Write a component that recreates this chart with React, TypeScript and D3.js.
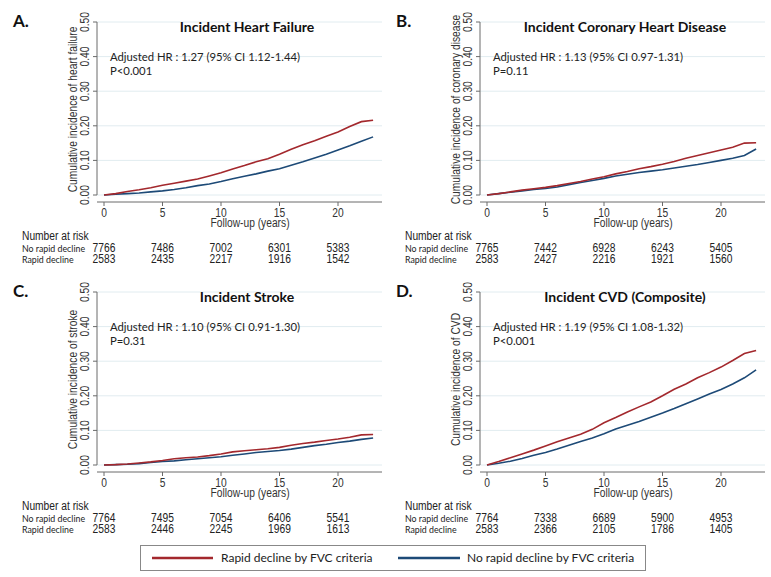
import React from 'react';
import * as d3 from 'd3';

// ---------- DATA ----------
const years = [0, 1, 2, 3, 4, 5, 6, 7, 8, 9, 10, 11, 12, 13, 14, 15, 16, 17, 18, 19, 20, 21, 22, 23];
const riskYears = [0, 5, 10, 15, 20];
const yTicks = [0, 0.1, 0.2, 0.3, 0.4, 0.5];

const hfRapid = [0, 0.004, 0.010, 0.015, 0.021, 0.028, 0.034, 0.040, 0.046, 0.055, 0.064, 0.075, 0.085, 0.096, 0.105, 0.118, 0.132, 0.145, 0.157, 0.170, 0.182, 0.198, 0.212, 0.216];
const hfNo = [0, 0.002, 0.004, 0.006, 0.009, 0.012, 0.016, 0.021, 0.027, 0.032, 0.039, 0.047, 0.054, 0.061, 0.069, 0.076, 0.086, 0.096, 0.107, 0.118, 0.130, 0.142, 0.155, 0.168];

const chdRapid = [0, 0.004, 0.009, 0.014, 0.018, 0.022, 0.027, 0.033, 0.039, 0.046, 0.053, 0.061, 0.068, 0.076, 0.082, 0.089, 0.097, 0.106, 0.114, 0.122, 0.130, 0.138, 0.150, 0.151];
const chdNo = [0, 0.004, 0.008, 0.012, 0.016, 0.019, 0.023, 0.030, 0.036, 0.042, 0.048, 0.055, 0.060, 0.065, 0.069, 0.073, 0.078, 0.083, 0.088, 0.094, 0.100, 0.106, 0.114, 0.133];

const strokeRapid = [0, 0.001, 0.003, 0.006, 0.009, 0.013, 0.018, 0.021, 0.023, 0.027, 0.032, 0.038, 0.041, 0.044, 0.047, 0.051, 0.057, 0.062, 0.066, 0.071, 0.075, 0.080, 0.087, 0.088];
const strokeNo = [0, 0.001, 0.002, 0.004, 0.007, 0.010, 0.012, 0.015, 0.018, 0.021, 0.024, 0.028, 0.032, 0.036, 0.039, 0.042, 0.046, 0.051, 0.056, 0.060, 0.065, 0.069, 0.074, 0.078];

const cvdRapid = [0, 0.010, 0.021, 0.032, 0.043, 0.055, 0.067, 0.078, 0.089, 0.103, 0.122, 0.137, 0.153, 0.168, 0.182, 0.200, 0.219, 0.234, 0.252, 0.267, 0.283, 0.302, 0.322, 0.331];
const cvdNo = [0, 0.005, 0.011, 0.019, 0.028, 0.036, 0.046, 0.057, 0.068, 0.078, 0.090, 0.104, 0.115, 0.126, 0.138, 0.150, 0.163, 0.177, 0.191, 0.205, 0.218, 0.234, 0.252, 0.275];

const hfRiskNo = [7766, 7486, 7002, 6301, 5383];
const hfRiskRapid = [2583, 2435, 2217, 1916, 1542];
const chdRiskNo = [7765, 7442, 6928, 6243, 5405];
const chdRiskRapid = [2583, 2427, 2216, 1921, 1560];
const strokeRiskNo = [7764, 7495, 7054, 6406, 5541];
const strokeRiskRapid = [2583, 2446, 2245, 1969, 1613];
const cvdRiskNo = [7764, 7338, 6689, 5900, 4953];
const cvdRiskRapid = [2583, 2366, 2105, 1786, 1405];

const legendLabels = ['Rapid decline by FVC criteria', 'No rapid decline by FVC criteria'];

// ---------- STYLE ----------
const RED = '#a3282d';
const BLUE = '#1d4a77';
const GRID = '#e1ecf0';
const AXIS = '#6a6a6a';
const SANS = "'Liberation Sans', Arial, sans-serif";
const CAL = "Lato, 'Open Sans', sans-serif";
const SQ = 0.82; // horizontal squeeze to mimic a narrow sans

function NText({ x, y, rot = 0, anchor = 'start', size = 12.5, fill = '#333', children }: any) {
  return (
    <text
      transform={`translate(${x},${y})${rot ? ` rotate(${rot})` : ''} scale(${SQ},1)`}
      textAnchor={anchor}
      fontFamily={SANS}
      fontSize={size}
      fill={fill}
    >
      {children}
    </text>
  );
}

const panels = [
  { letter: 'A.', title: 'Incident Heart Failure', yLabel: 'Cumulative incidence of heart failure', hr: 'Adjusted HR : 1.27 (95% CI 1.12-1.44)', p: 'P<0.001', red: hfRapid, blue: hfNo, riskNo: hfRiskNo, riskRapid: hfRiskRapid, x0: 104, y0: 195, titleX: 247 },
  { letter: 'B.', title: 'Incident Coronary Heart Disease', yLabel: 'Cumulative incidence of coronary disease', hr: 'Adjusted HR : 1.13 (95% CI 0.97-1.31)', p: 'P=0.11', red: chdRapid, blue: chdNo, riskNo: chdRiskNo, riskRapid: chdRiskRapid, x0: 487, y0: 195, titleX: 625 },
  { letter: 'C.', title: 'Incident Stroke', yLabel: 'Cumulative incidence of stroke', hr: 'Adjusted HR : 1.10 (95% CI 0.91-1.30)', p: 'P=0.31', red: strokeRapid, blue: strokeNo, riskNo: strokeRiskNo, riskRapid: strokeRiskRapid, x0: 104, y0: 465, titleX: 247 },
  { letter: 'D.', title: 'Incident CVD (Composite)', yLabel: 'Cumulative incidence of CVD', hr: 'Adjusted HR : 1.19 (95% CI 1.08-1.32)', p: 'P<0.001', red: cvdRapid, blue: cvdNo, riskNo: cvdRiskNo, riskRapid: cvdRiskRapid, x0: 487, y0: 465, titleX: 625 },
];

function Panel({ cfg }: { cfg: any }) {
  const x = d3.scaleLinear().domain([0, 20]).range([cfg.x0, cfg.x0 + 234]);
  const y = d3.scaleLinear().domain([0, 0.5]).range([cfg.y0, cfg.y0 - 173]);
  const axisX = cfg.x0 - 7;
  const rightX = cfg.x0 + 278;
  const axisY = cfg.y0 + 7;
  const line = d3.line<number>().x((_, i) => x(years[i])).y((d) => y(d)).curve(d3.curveLinear);
  const xTicks = x.ticks(5).filter((t) => t <= 20);
  return (
    <g>
      {yTicks.map((t) => (
        <line key={'g' + t} x1={axisX} x2={rightX} y1={y(t)} y2={y(t)} stroke={GRID} strokeWidth={1} />
      ))}
      <line x1={axisX} x2={axisX} y1={y(0.5)} y2={y(0)} stroke={AXIS} strokeWidth={1} />
      {yTicks.map((t) => (
        <g key={'yt' + t}>
          <line x1={axisX - 4} x2={axisX} y1={y(t)} y2={y(t)} stroke={AXIS} strokeWidth={1} />
          <NText x={axisX - 8} y={y(t)} rot={-90} anchor="middle" size={12.5}>{d3.format('.2f')(t)}</NText>
        </g>
      ))}
      <NText x={axisX - 20} y={(y(0) + y(0.5)) / 2 + 1} rot={-90} anchor="middle" size={12.5}>{cfg.yLabel}</NText>
      <line x1={axisX} x2={rightX} y1={axisY} y2={axisY} stroke={AXIS} strokeWidth={1} />
      {xTicks.map((t) => (
        <g key={'xt' + t}>
          <line x1={x(t)} x2={x(t)} y1={axisY} y2={axisY + 4} stroke={AXIS} strokeWidth={1} />
          <NText x={x(t)} y={cfg.y0 + 22} anchor="middle">{t}</NText>
        </g>
      ))}
      <NText x={cfg.x0 + 146} y={cfg.y0 + 32} anchor="middle">Follow-up (years)</NText>
      <path d={line(cfg.blue) || ''} fill="none" stroke={BLUE} strokeWidth={1.6} />
      <path d={line(cfg.red) || ''} fill="none" stroke={RED} strokeWidth={1.6} />
      <text x={cfg.x0 - 91} y={y(0.5) + 5} fontFamily={CAL} fontWeight={700} fontSize={17} fill="#111">{cfg.letter}</text>
      <text x={cfg.titleX} y={y(0.5) + 10} textAnchor="middle" fontFamily={CAL} fontWeight={700} fontSize={14} fill="#111">{cfg.title}</text>
      <text x={cfg.x0 + 6} y={cfg.y0 - 134} fontFamily={CAL} fontSize={11.3} fill="#222">{cfg.hr}</text>
      <text x={cfg.x0 + 6} y={cfg.y0 - 120} fontFamily={CAL} fontSize={11.3} fill="#222">{cfg.p}</text>
      <NText x={cfg.x0 - 82} y={cfg.y0 + 45} fill="#222">Number at risk</NText>
      <text x={cfg.x0 - 82} y={cfg.y0 + 57} fontFamily={CAL} fontSize={8.8} fill="#222">No rapid decline</text>
      <text x={cfg.x0 - 82} y={cfg.y0 + 68} fontFamily={CAL} fontSize={8.8} fill="#222">Rapid decline</text>
      {riskYears.map((t, i) => (
        <g key={'r' + t}>
          <NText x={x(t)} y={cfg.y0 + 57} anchor="middle" fill="#222">{cfg.riskNo[i]}</NText>
          <NText x={x(t)} y={cfg.y0 + 68} anchor="middle" fill="#222">{cfg.riskRapid[i]}</NText>
        </g>
      ))}
    </g>
  );
}

export default function App() {
  return (
    <svg width={771} height={577} style={{ position: 'absolute', left: 0, top: 0, background: '#fff' }}>
      <rect width={771} height={577} fill="#fff" />
      {panels.map((p) => (
        <Panel key={p.letter} cfg={p} />
      ))}
      <g>
        <rect x={140.5} y={545.5} width={505} height={25} fill="#fff" stroke="#888" strokeWidth={1} />
        <line x1={152} x2={213} y1={558} y2={558} stroke={RED} strokeWidth={2.5} />
        <text x={221} y={562} fontFamily={CAL} fontSize={12} fill="#222">{legendLabels[0]}</text>
        <line x1={398} x2={460} y1={558} y2={558} stroke={BLUE} strokeWidth={2.5} />
        <text x={467} y={562} fontFamily={CAL} fontSize={12} fill="#222">{legendLabels[1]}</text>
      </g>
    </svg>
  );
}
